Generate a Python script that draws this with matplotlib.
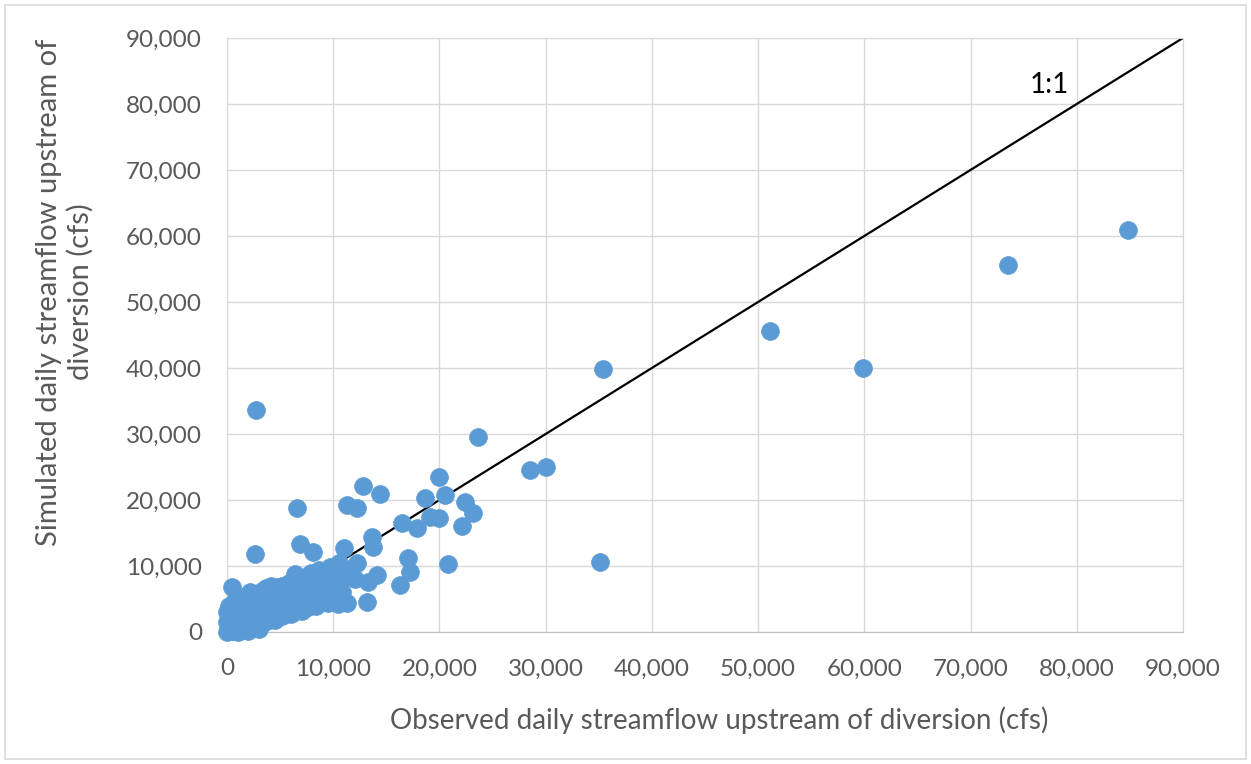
import matplotlib.pyplot as plt
from matplotlib.patches import Rectangle
from matplotlib.ticker import FuncFormatter, MultipleLocator

# Observed (x) vs simulated (y) daily streamflow, cfs
# isolated / high-flow points
observed_high = [84800, 73500, 51100, 59900, 35400, 2700, 23600, 30000, 28500, 35100,
                 20000, 20500, 18600, 12800, 14400, 11300, 12200, 6600, 22400, 23200,
                 22100, 19100, 20000, 17900, 16500, 13650, 13750, 6900, 8100, 2600,
                 17000, 17200, 16300, 20800, 14100, 13300, 13200, 500]
simulated_high = [60900, 55600, 45600, 40000, 39800, 33600, 29500, 25000, 24500, 10600,
                  23500, 20800, 20300, 22100, 20900, 19200, 18800, 18800, 19700, 18000,
                  16100, 17400, 17300, 15800, 16500, 14400, 12900, 13300, 12100, 11800,
                  11200, 9100, 7100, 10300, 8600, 7600, 4500, 6800]

# dense low-flow cluster
observed_low = [0, 100, 200, 300, 400, 500, 600, 700, 800, 900, 1000, 1100, 1200, 1300,
                1400, 1500, 1600, 1700, 1800, 1900, 2000, 2100, 2200, 2300, 2400, 2500,
                2600, 2700, 2800, 2900, 3000, 3100, 3200, 3300, 3400, 3500, 3600, 3700,
                3800, 3900, 4000, 4100, 4200, 4300, 4400, 4500, 4600, 4700, 4800, 4900,
                5000, 5100, 5200, 5300, 5400, 5500, 5600, 5700, 5800, 5900, 6000, 6100,
                6200, 6300, 6400, 6500, 6600, 6700, 6800, 6900, 7000, 7100, 7200, 7300,
                7400, 7500, 7600, 7700, 7800, 7900, 8000, 8100, 8200, 8300, 8400, 8500,
                8600, 8700, 8800, 8900, 9000, 9200, 9400, 9500, 9700, 9800, 10000, 10200,
                10400, 10500, 10800, 11000, 11100, 11300, 12200, 12000, 1200, 800, 1600,
                300, 600, 150, 900, 1400, 250, 2000, 2500,
                0, 0, 200, 500, 700, 1000, 1300, 1800, 2200, 600, 1500, 2500, 3500,
                2000, 3000, 1000, 4500, 5200, 6000, 9000, 9600, 10300, 10700, 11600]
simulated_low = [0, 300, 800, 150, 1200, 500, 1800, 200, 2500, 900, 3000, 1500, 400, 2200,
                 3500, 1000, 2800, 600, 4000, 1800, 3200, 900, 4600, 2400, 1400, 5200,
                 3600, 700, 2000, 4300, 5800, 3000, 1200, 6200, 4800, 2200, 3800, 6600,
                 1600, 5400, 3000, 7000, 4300, 2000, 6000, 3500, 5200, 2500, 6800, 4200,
                 3000, 5800, 7000, 3600, 4800, 2800, 6200, 4200, 7400, 3200, 5400, 4000,
                 6800, 3000, 8800, 4800, 5800, 3600, 7600, 4400, 6400, 3200, 5200, 8400,
                 4200, 6000, 3800, 7200, 5000, 9000, 4400, 6400, 5600, 8200, 4000, 7000,
                 5200, 9400, 6000, 4600, 8000, 5400, 7000, 4400, 9800, 6200, 5000, 8200,
                 4200, 10500, 6000, 12700, 9200, 4400, 10500, 8000, 5000, 4200, 4800,
                 2000, 3600, 1000, 100, 600, 1200, 300, 1600,
                 1500, 3000, 4000, 3500, 4500, 4800, 5000, 5500, 6000, 600, 2000, 2800,
                 4800, 200, 500, 0, 1800, 2400, 2800, 6800, 5600, 7000, 8000, 9600]

fig = plt.figure(figsize=(12.51, 7.64), dpi=100)
plt.rcParams["font.family"] = ["Lato", "DejaVu Sans"]
ax = fig.add_axes([0.1815, 0.1728, 0.9456 - 0.1815, 0.9503 - 0.1728])

marker_color = "#5B9BD5"
ax.scatter(observed_low + observed_high, simulated_low + simulated_high,
           s=165, color=marker_color, edgecolors=marker_color, linewidths=0.5,
           clip_on=False, zorder=3)

ax.plot([0, 90000], [0, 90000], color="black", linewidth=1.6, zorder=2)
ax.text(75600, 82800, "1:1", fontsize=20, color="black", ha="left", va="center")

ax.set_xlim(0, 90000)
ax.set_ylim(0, 90000)
ax.xaxis.set_major_locator(MultipleLocator(10000))
ax.yaxis.set_major_locator(MultipleLocator(10000))
fmt = FuncFormatter(lambda v, _: f"{int(v):,}")
ax.xaxis.set_major_formatter(fmt)
ax.yaxis.set_major_formatter(fmt)

ax.grid(True, color="#d9d9d9", linewidth=1.0)
ax.set_axisbelow(True)
for side in ["top", "right", "left"]:
    ax.spines[side].set_color("#d9d9d9")
ax.spines["bottom"].set_color("#bfbfbf")
ax.tick_params(length=0, labelsize=17.5, colors="#595959")
ax.tick_params(axis="x", pad=19)
ax.tick_params(axis="y", pad=18)

# axis titles placed like the Excel chart
fig.text(719 / 1251, 1 - 720 / 764, "Observed daily streamflow upstream of diversion (cfs)",
         fontsize=20, color="#595959", ha="center", va="center")
fig.text(65 / 1251, 1 - 292 / 764, "Simulated daily streamflow upstream of\ndiversion (cfs)",
         fontsize=21, color="#595959", ha="center", va="center", rotation=90,
         multialignment="center", linespacing=1.25)

# light frame around the whole chart
fig.patches.append(Rectangle((0.004, 0.006), 0.992, 0.988, transform=fig.transFigure,
                             fill=False, edgecolor="#d9d9d9", linewidth=1.2))

fig.savefig("out.png", dpi=100)
